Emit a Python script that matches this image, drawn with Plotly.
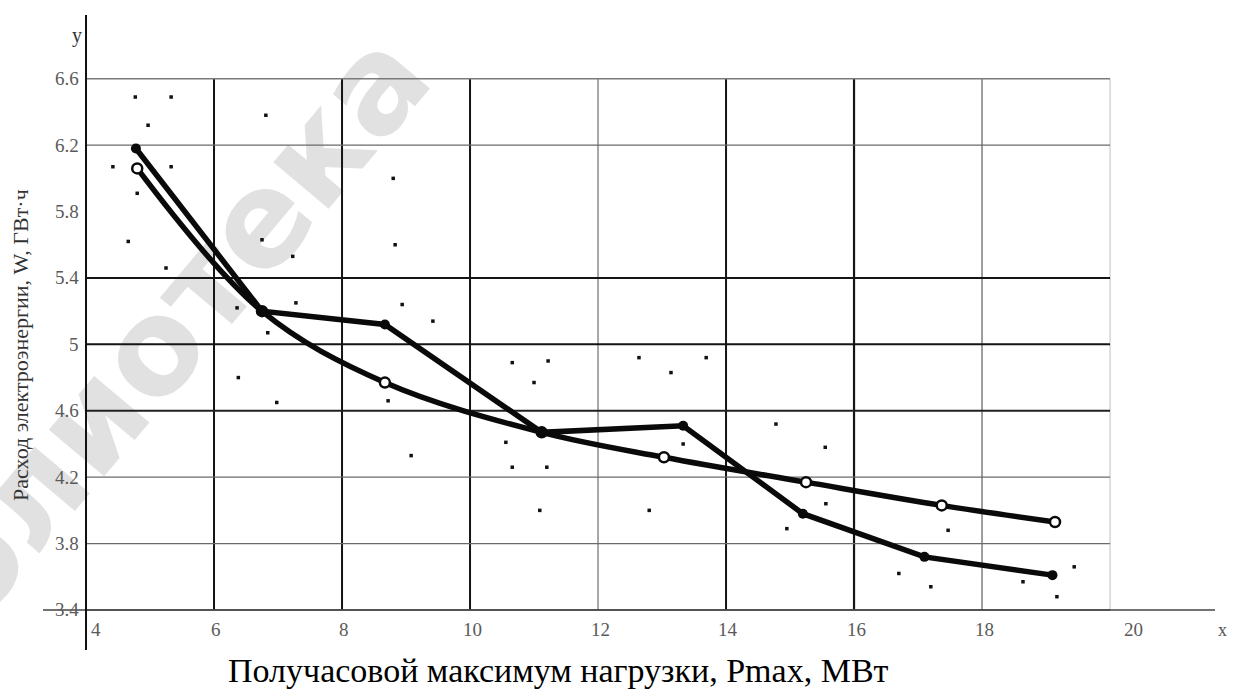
import plotly.graph_objects as go

# ---------------- data ----------------
# observed points (scatter of raw data)
obs_x = [4.77, 5.33, 4.97, 6.81, 4.42, 5.33, 4.80, 8.80, 4.66, 6.75, 7.23, 8.83,
         5.25, 6.36, 7.28, 8.94, 6.84, 9.42, 6.38, 6.98, 8.72, 9.08, 10.66, 11.22,
         11.00, 12.64, 13.14, 13.69, 10.56, 10.66, 11.20, 11.09, 12.80, 13.33, 14.78,
         15.55, 15.56, 14.95, 17.47, 16.70, 17.20, 18.64, 19.44, 19.17]
obs_y = [6.49, 6.49, 6.32, 6.38, 6.07, 6.07, 5.91, 6.00, 5.62, 5.63, 5.53, 5.60,
         5.46, 5.22, 5.25, 5.24, 5.07, 5.14, 4.80, 4.65, 4.66, 4.33, 4.89, 4.90,
         4.77, 4.92, 4.83, 4.92, 4.41, 4.26, 4.26, 4.00, 4.00, 4.40, 4.52,
         4.38, 4.04, 3.89, 3.88, 3.62, 3.54, 3.57, 3.66, 3.48]

# empirical regression line (filled markers)
emp_x = [4.78, 6.75, 8.67, 11.12, 13.33, 15.20, 17.10, 19.10]
emp_y = [6.18, 5.20, 5.12, 4.47, 4.51, 3.98, 3.72, 3.61]

# theoretical (fitted) curve (hollow markers)
fit_x = [4.80, 6.75, 8.67, 11.12, 13.03, 15.25, 17.37, 19.14]
fit_y = [6.06, 5.20, 4.77, 4.47, 4.32, 4.17, 4.03, 3.93]

# axes / grid
x_ticks = [4, 6, 8, 10, 12, 14, 16, 18, 20]
x_tick_text = ["4", "6", "8", "10", "12", "14", "16", "18", "20"]
y_ticks = [6.6, 6.2, 5.8, 5.4, 5.0, 4.6, 4.2, 3.8, 3.4]
y_tick_text = ["6.6", "6.2", "5.8", "5.4", "5", "4.6", "4.2", "3.8", "3.4"]
v_grid = [6, 8, 10, 12, 14, 16, 18, 20]
h_grid = [6.6, 6.2, 5.4, 5.0, 4.6, 4.2, 3.8, 3.4]

x_title = "Получасовой максимум нагрузки, Pmax, МВт"
y_title = "Расход электроэнергии, W, ГВт·ч"
watermark = "Библиотека"

# ---------------- styles ----------------
v_grid_style = {6: ("#151515", 2), 8: ("#151515", 2), 10: ("#151515", 2), 12: ("#7a7a7a", 1.3),
                14: ("#151515", 2), 16: ("#151515", 2.2), 18: ("#6a6a6a", 1.3), 20: ("#c0c0c0", 1)}
h_grid_style = {6.6: ("#7a7a7a", 1.3), 6.2: ("#6a6a6a", 1.3), 5.4: ("#151515", 2), 5.0: ("#151515", 2),
                4.6: ("#202020", 2), 4.2: ("#6a6a6a", 1.3), 3.8: ("#6a6a6a", 1.3), 3.4: ("#555555", 1.5)}

X_RANGE = [3.328, 21.64]
Y_RANGE = [3.159, 6.984]
X_MIN_GRID, X_MAX_GRID = 4, 20
Y_MIN_GRID, Y_MAX_GRID = 3.4, 6.6

W, H = 1241, 691
L, R, T, B = 43, 26, 15, 41
pw, ph = W - L - R, H - T - B


def px(xp, yp):
    """page pixel -> paper coordinates"""
    return (xp - L) / pw, (H - B - yp) / ph


fig = go.Figure()

shapes = []
# watermark (under everything), line from lower-left to upper-right
wx0, wy0 = px(-94, 751)
wx1, wy1 = px(420, 139)
shapes.append(dict(type="line", xref="paper", yref="paper",
                   x0=wx0, y0=wy0, x1=wx1, y1=wy1,
                   line=dict(width=0, color="rgba(0,0,0,0)"), layer="below",
                   label=dict(text=watermark, textposition="middle",
                              font=dict(family="DejaVu Sans", size=132, color="#e1e1e1",
                                        weight="bold"))))
for gx in v_grid:
    c, w = v_grid_style[gx]
    shapes.append(dict(type="line", xref="x", yref="y", x0=gx, x1=gx, y0=Y_MIN_GRID, y1=Y_MAX_GRID,
                       line=dict(color=c, width=w), layer="below"))
for gy in h_grid:
    c, w = h_grid_style[gy]
    shapes.append(dict(type="line", xref="x", yref="y", x0=X_MIN_GRID, x1=X_MAX_GRID, y0=gy, y1=gy,
                       line=dict(color=c, width=w), layer="below"))
# axis lines
shapes.append(dict(type="line", xref="x", yref="y", x0=X_RANGE[0], x1=X_RANGE[1], y0=3.4, y1=3.4,
                   line=dict(color="#444444", width=1.6), layer="below"))
shapes.append(dict(type="line", xref="x", yref="y", x0=4, x1=4, y0=Y_RANGE[0], y1=Y_RANGE[1],
                   line=dict(color="#111111", width=2), layer="below"))

fig.add_trace(go.Scatter(x=obs_x, y=obs_y, mode="markers",
                         marker=dict(symbol="square", size=3.5, color="#111111"),
                         showlegend=False, hoverinfo="x+y"))
fig.add_trace(go.Scatter(x=fit_x, y=fit_y, mode="lines+markers",
                         line=dict(color="#0a0a0a", width=5.5, shape="spline", smoothing=1.0),
                         marker=dict(symbol="circle", size=10, color="white",
                                     line=dict(color="#0a0a0a", width=2.5)),
                         showlegend=False))
fig.add_trace(go.Scatter(x=emp_x, y=emp_y, mode="lines+markers",
                         line=dict(color="#0a0a0a", width=5.5),
                         marker=dict(symbol="circle", size=10, color="#0a0a0a"),
                         showlegend=False))

annotations = []
tick_font = dict(family="Liberation Serif", size=19, color="#5a5a5a")
for xv, xt in zip(x_ticks, x_tick_text):
    shift = 10 if xv == x_ticks[0] else (23 if xv == x_ticks[-1] else 2)
    annotations.append(dict(x=xv, y=3.4, xref="x", yref="y", text=xt, showarrow=False,
                            xanchor="center", yanchor="middle",
                            yshift=-20, xshift=shift, font=tick_font))
for yv, yt in zip(y_ticks, y_tick_text):
    annotations.append(dict(x=4, y=yv, xref="x", yref="y", text=yt, showarrow=False,
                            xanchor="right", yanchor="middle", xshift=-5, yshift=0, font=tick_font))


def label(xp, yp, text, size, color, angle=0):
    ax_, ay_ = px(xp, yp)
    return dict(x=ax_, y=ay_, xref="paper", yref="paper", text=text, showarrow=False,
                xanchor="center", yanchor="middle", textangle=angle,
                font=dict(family="Liberation Serif", size=size, color=color))


annotations.append(label(77, 36, "y", 20, "#333333"))
annotations.append(label(1222, 630, "x", 18, "#555555"))
annotations.append(label(20, 345, y_title, 22, "#333333", angle=-90))
annotations.append(label(558, 670, x_title, 34, "#000000"))

fig.update_layout(
    width=W, height=H,
    margin=dict(l=L, r=R, t=T, b=B),
    paper_bgcolor="white", plot_bgcolor="rgba(0,0,0,0)",
    xaxis=dict(range=X_RANGE, visible=False, showgrid=False, zeroline=False),
    yaxis=dict(range=Y_RANGE, visible=False, showgrid=False, zeroline=False),
    shapes=shapes, annotations=annotations, showlegend=False,
)

fig.write_html("out.html", config={"displayModeBar": False},
               post_script="document.body.style.margin='0px';document.body.style.overflow='hidden';")
